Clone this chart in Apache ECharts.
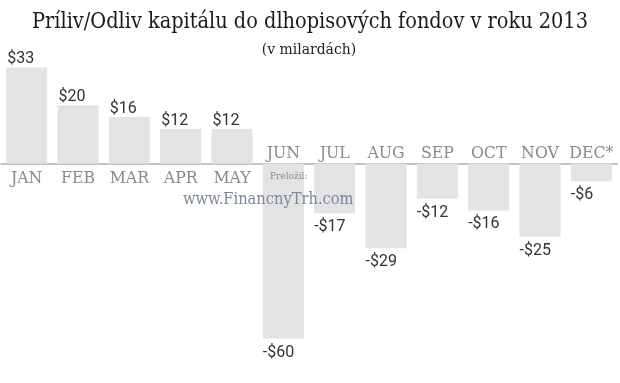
<!DOCTYPE html>
<html><head><meta charset="utf-8">
<script src="https://cdn.jsdelivr.net/npm/echarts@6/dist/echarts.min.js"></script>
<style>html,body{margin:0;padding:0;background:#fff}#c{width:620px;height:383px}</style>
</head><body><div id="c"></div>
<script>
const months = ['JAN','FEB','MAR','APR','MAY','JUN','JUL','AUG','SEP','OCT','NOV','DEC*'];
const flows = [33, 20, 16, 12, 12, -60, -17, -29, -12, -16, -25, -6];
const valueLabels = ['$33','$20','$16','$12','$12','-$60','-$17','-$29','-$12','-$16','-$25','-$6'];
const titleText = 'Príliv/Odliv kapitálu do dlhopisových fondov v roku 2013';
const subtitleText = '(v milardách)';

const chart = echarts.init(document.getElementById('c'), null, {renderer:'canvas'});
const serif = '"DejaVu Serif Condensed", "DejaVu Serif", serif';
chart.setOption({
  animation:false,
  title:[
    {text:titleText, left:'center', top:6, textStyle:{fontFamily:serif, fontWeight:'normal', fontSize:21.5, color:'#1a1a1a'}},
    {text:subtitleText, left:304, top:37, textAlign:'center', textStyle:{fontFamily:serif, fontWeight:'normal', fontSize:15.5, color:'#222'}}
  ],
  grid:{left:1, width:616, top:47, height:321, containLabel:false, outerBoundsMode:'none'},
  xAxis:{type:'category', data:months, axisLine:{onZero:true, lineStyle:{color:'#b0b0b0', width:1.5}},
     axisTick:{show:false}, axisLabel:{show:false}},
  yAxis:{type:'value', min:-70, max:40, show:false, splitLine:{show:false}},
  graphic:[
    {type:'text', left:270, top:171, z:100, style:{text:'Preložil:', fill:'#8a8a8a', font:'10px '+serif}},
    {type:'text', left:183, top:192, z:100, style:{text:'www.FinancnyTrh.com', fill:'#7a8898', font:'16.3px '+serif}}
  ],
  series:[{
    type:'bar', barWidth:41,
    itemStyle:{color:'#e3e3e3'},
    data: flows.map((v,i)=>({value:v, label:{
      show:true, formatter: valueLabels[i],
      position: v>=0 ? [0,-2] : ['0%','100%'],
      verticalAlign: v>=0 ? 'bottom' : 'top',
      align:'left', distance:0,
      offset: v>=0 ? [1,2] : [0,6],
      color:'#333', fontFamily:'Roboto, sans-serif', fontSize:16
    }}))
  },{
    type:'bar', barWidth:41, barGap:'-100%',
    itemStyle:{color:'rgba(0,0,0,0)'},
    data: flows.map((v,i)=>({value:v, label:{
      show:true, formatter: months[i],
      position: v>=0 ? ['50%','100%'] : ['50%','0%'],
      verticalAlign: v>=0 ? 'top' : 'bottom',
      align:'center',
      offset: v>=0 ? [0,6] : [0,-1],
      color:'#8a8a8a', fontFamily:serif, fontSize:17.5
    }}))
  }]
});
</script></body></html>
